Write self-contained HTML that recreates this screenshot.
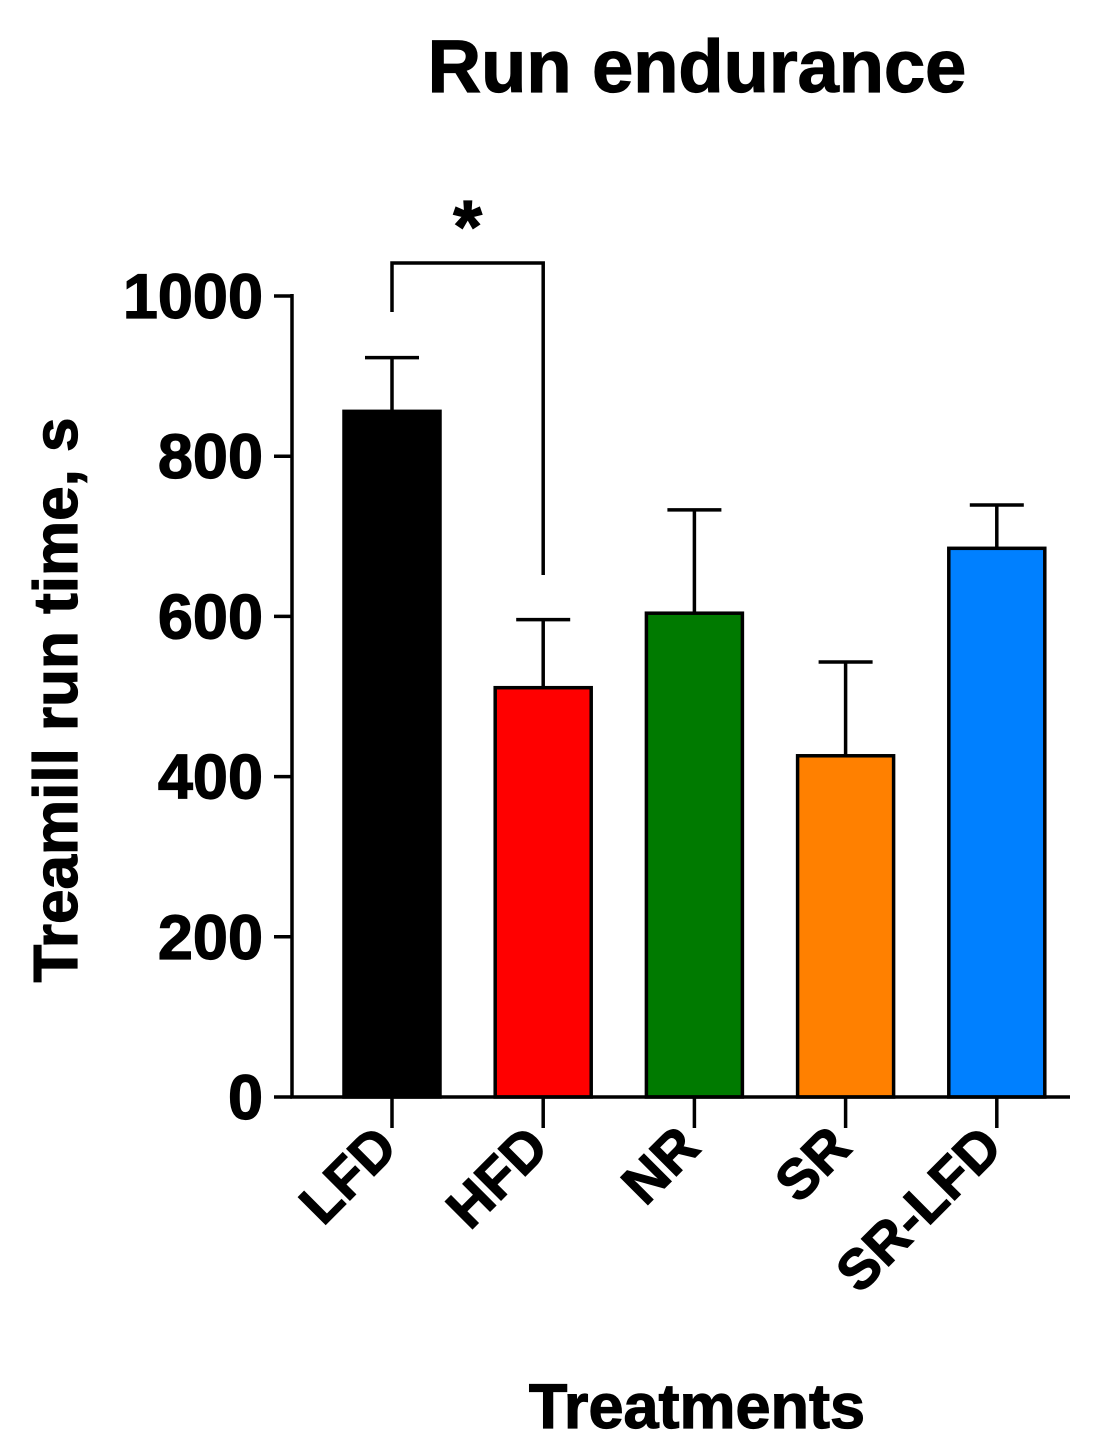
<!DOCTYPE html>
<html><head><meta charset="utf-8"><style>
html,body{margin:0;padding:0;background:#fff;}
svg{display:block;font-family:"Liberation Sans",Arial,sans-serif;font-weight:bold;}
text{stroke:#000;stroke-width:1.2px;}
</style></head><body>
<svg id="chart" width="1117" height="1455" viewBox="0 0 1117 1455">
<text x="697" y="92" font-size="74" text-anchor="middle">Run endurance</text>
<text transform="translate(77,700) rotate(-90)" font-size="62" text-anchor="middle">Treamill run time, s</text>
<text x="697" y="1428" font-size="63" text-anchor="middle">Treatments</text>
<g id="plot"></g>
</svg>
<script>
const categories=["LFD","HFD","NR","SR","SR-LFD"];
const means=[856,511,604,426,685];
const errors=[67,85,129,117,54];
const colors=["#000000","#ff0000","#007a00","#ff8000","#0080ff"];
const yTicks=[0,200,400,600,800,1000];
const NS="http://www.w3.org/2000/svg";
const g=document.getElementById("plot");
const y=v=>1097-v*0.801;
const xc=i=>392+i*151.2;
function el(t,a){const e=document.createElementNS(NS,t);for(const k in a)e.setAttribute(k,a[k]);g.appendChild(e);return e;}
categories.forEach((c,i)=>{
  const cx=xc(i);
  const bar=el("rect",{x:cx-48,y:y(means[i]),width:96,height:y(0)-y(means[i]),fill:colors[i],stroke:"#000","stroke-width":3.5});
  
  
  const eb=el("path",{d:`M${cx},${y(means[i])} V${y(means[i]+errors[i])} M${cx-27},${y(means[i]+errors[i])} H${cx+27}`,stroke:"#000","stroke-width":3.5,fill:"none"});
  
  
  const tk=el("line",{x1:cx,x2:cx,y1:1097,y2:1128,stroke:"#000","stroke-width":3.5});
  
  
  const t=el("text",{transform:`translate(${cx+8},${1150}) rotate(-45)`,"font-size":56,"text-anchor":"end"});
  t.textContent=c;
  
  
});
yTicks.forEach(v=>{
  const l=el("line",{x1:274,x2:292,y1:y(v),y2:y(v),stroke:"#000","stroke-width":3.5});
  
  
  const t=el("text",{x:263,y:y(v)+22,"font-size":63,"text-anchor":"end"});
  t.textContent=v;
  
  
});
const ax=el("path",{d:"M292,294 V1097 H1070",stroke:"#000","stroke-width":3.5,fill:"none"});


const br=el("path",{d:`M${xc(0)},312 V263 H${xc(1)} V575`,stroke:"#000","stroke-width":3.5,fill:"none"});


const st=el("text",{x:(xc(0)+xc(1))/2,y:252,"font-size":74,"text-anchor":"middle"});
st.textContent="*";


</script>
</body></html>
